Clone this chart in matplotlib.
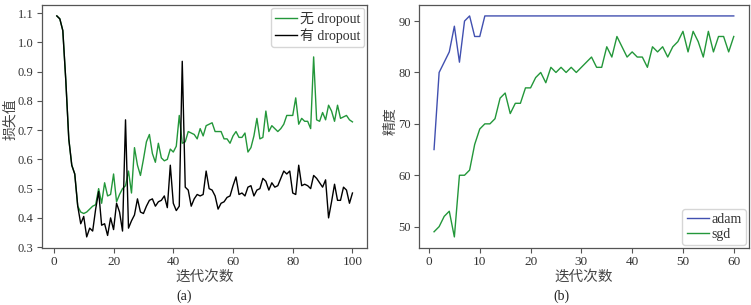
import matplotlib
matplotlib.use("Agg")
import matplotlib.pyplot as plt

plt.rcParams['font.family'] = ['Liberation Serif', 'Noto Sans CJK SC']

# (a) loss per iteration, with / without dropout
epochs_a = list(range(1, 101))
loss_no_dropout = [
    1.09, 1.08, 1.04, 0.87, 0.67, 0.58, 0.55, 0.44, 0.42, 0.415,
    0.42, 0.43, 0.44, 0.445, 0.50, 0.45, 0.52, 0.475, 0.48, 0.55,
    0.455, 0.48, 0.50, 0.51, 0.56, 0.485, 0.64, 0.58, 0.545, 0.60,
    0.66, 0.685, 0.62, 0.59, 0.655, 0.605, 0.595, 0.60, 0.635, 0.625,
    0.645, 0.75, 0.655, 0.66, 0.695, 0.69, 0.685, 0.67, 0.705, 0.68,
    0.715, 0.72, 0.725, 0.695, 0.695, 0.695, 0.67, 0.67, 0.655, 0.68,
    0.695, 0.675, 0.675, 0.69, 0.625, 0.64, 0.68, 0.74, 0.67, 0.675,
    0.765, 0.695, 0.715, 0.705, 0.695, 0.705, 0.72, 0.75, 0.75, 0.75,
    0.81, 0.72, 0.74, 0.73, 0.73, 0.705, 0.95, 0.735, 0.73, 0.76,
    0.735, 0.785, 0.765, 0.73, 0.785, 0.74, 0.745, 0.75, 0.735, 0.728,
]
loss_dropout = [
    1.09, 1.08, 1.04, 0.87, 0.67, 0.58, 0.55, 0.44, 0.38, 0.405,
    0.335, 0.365, 0.355, 0.43, 0.49, 0.375, 0.38, 0.34, 0.40, 0.36,
    0.45, 0.42, 0.355, 0.735, 0.365, 0.39, 0.41, 0.465, 0.42, 0.415,
    0.44, 0.46, 0.465, 0.44, 0.455, 0.46, 0.475, 0.435, 0.58, 0.45,
    0.425, 0.44, 0.935, 0.505, 0.495, 0.44, 0.465, 0.48, 0.475, 0.48,
    0.56, 0.50, 0.495, 0.475, 0.43, 0.45, 0.455, 0.47, 0.475, 0.51,
    0.54, 0.48, 0.485, 0.475, 0.505, 0.51, 0.475, 0.495, 0.50, 0.535,
    0.525, 0.495, 0.52, 0.505, 0.51, 0.535, 0.56, 0.55, 0.56, 0.485,
    0.48, 0.58, 0.51, 0.515, 0.51, 0.50, 0.545, 0.535, 0.52, 0.505,
    0.53, 0.40, 0.455, 0.515, 0.46, 0.46, 0.505, 0.495, 0.45, 0.485,
]

# (b) accuracy per iteration, adam vs sgd
epochs_b = list(range(1, 61))
acc_adam = [65, 80, 82, 84, 89, 82, 90, 91, 87, 87] + [91] * 50
acc_sgd = [
    49, 50, 52, 53, 48, 60, 60, 61, 66, 69,
    70, 70, 71, 75, 76, 72, 74, 74, 77, 77,
    79, 80, 78, 81, 80, 81, 80, 81, 80, 81,
    82, 83, 81, 81, 85, 83, 87, 85, 83, 84,
    83, 83, 81, 85, 84, 85, 83, 85, 86, 88,
    84, 88, 86, 83, 88, 84, 87, 87, 84, 87,
]

GREEN = "#23973a"
BLUE = "#4150b0"
SPINE = "#555555"
TEXT = "#333333"
LABEL = "#444444"


def _style(ax):
    for s in ax.spines.values():
        s.set_color(SPINE)
        s.set_linewidth(0.9)
    ax.tick_params(colors=SPINE, labelcolor=TEXT, length=3.5, width=0.8, pad=2.5)
    ax.tick_params(axis="x", labelsize=9.5)
    ax.tick_params(axis="y", labelsize=9)


def _legend(ax, loc):
    leg = ax.legend(loc=loc, fontsize=10, handlelength=1.6,
                    handletextpad=0.2, borderpad=0.3, labelspacing=0.15,
                    borderaxespad=0.2, fancybox=True)
    leg.get_frame().set_edgecolor("#cccccc")
    for t in leg.get_texts():
        t.set_color(TEXT)
    return leg


fig = plt.figure(figsize=(7.51, 3.05), dpi=100)
ax1 = fig.add_axes([0.056, 0.187, 0.433, 0.797])
ax2 = fig.add_axes([0.558, 0.187, 0.439, 0.797])

ax1.plot(epochs_a, loss_no_dropout, color=GREEN, lw=1.0, label="无 dropout")
ax1.plot(epochs_a, loss_dropout, color="black", lw=1.0, label="有 dropout")
ax1.set_yticks([0.3, 0.4, 0.5, 0.6, 0.7, 0.8, 0.9, 1.0, 1.1])
ax1.set_xticks([0, 20, 40, 60, 80, 100])
ax1.set_xlabel("迭代次数", fontsize=10.5, color=LABEL, labelpad=1)
ax1.set_ylabel("损失值", fontsize=10, color=LABEL)
ax1.yaxis.set_label_coords(-0.077, 0.53)
_style(ax1)
_legend(ax1, "upper right")

ax2.plot(epochs_b, acc_adam, color=BLUE, lw=1.0, label="adam")
ax2.plot(epochs_b, acc_sgd, color=GREEN, lw=1.0, label="sgd")
ax2.set_yticks([50, 60, 70, 80, 90])
ax2.set_xticks([0, 10, 20, 30, 40, 50, 60])
ax2.set_xlabel("迭代次数", fontsize=10.5, color=LABEL, labelpad=1)
ax2.set_ylabel("精度", fontsize=10, color=LABEL)
ax2.yaxis.set_label_coords(-0.064, 0.52)
_style(ax2)
_legend(ax2, "lower right")

fig.text(0.245, 0.028, "(a)", ha="center", va="center", fontsize=10, color="#222222")
fig.text(0.747, 0.028, "(b)", ha="center", va="center", fontsize=10, color="#222222")

fig.savefig("out.png", dpi=100)
